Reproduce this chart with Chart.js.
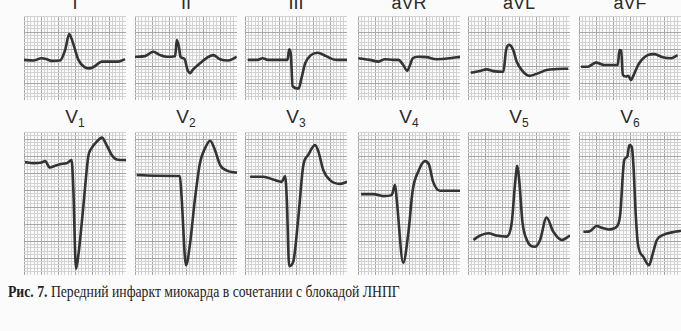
<!DOCTYPE html>
<html>
<head>
<meta charset="utf-8">
<script src="https://cdn.jsdelivr.net/npm/chart.js@4/dist/chart.umd.min.js"></script>
<style>
  html, body { margin:0; padding:0; background:#fbfbfb; }
  body { width:681px; height:331px; position:relative; overflow:hidden; }
  .panel { position:absolute; }
  .lbl { position:absolute; font-family:"Liberation Sans", Arial, sans-serif; color:#2a2a2a; text-align:center; width:110px; }
  .lbl sub { font-size:12px; vertical-align:baseline; position:relative; top:4px; }
  #cap { position:absolute; left:8px; top:282px; font-family:"Liberation Serif", "Times New Roman", serif; font-size:16.5px; color:#222; white-space:nowrap; transform:scaleX(0.83); transform-origin:0 0; }
</style>
</head>
<body>
<div id="cap"><b>Рис. 7.</b> Передний инфаркт миокарда в сочетании с блокадой ЛНПГ</div>
<script>
// ===== DATA (time in mm of paper, amplitude in mm of paper) =====
const limbLeads = ['I', 'II', 'III', 'aVR', 'aVL', 'aVF'];
const chestLeads = ['V1', 'V2', 'V3', 'V4', 'V5', 'V6'];

const I_t   = [0, 2.7, 5.2, 6.7, 8.1, 10.6, 12.1, 13.3, 14.3, 16.0, 17.9, 19.4, 20.9, 22.9, 25.3, 27.7, 29.7];
const I_mv  = [11.8, 11.6, 12.3, 12.0, 11.5, 11.6, 14.7, 19.4, 17.1, 11.8, 9.6, 9.3, 10.0, 11.3, 11.3, 11.3, 12.0];

const II_t  = [0, 2.9, 5.4, 7.4, 9.3, 11.8, 12.3, 12.9, 13.4, 14.2, 14.7, 15.4, 16.2, 17.1, 19.1, 21.6, 23.0, 25.0, 27.4, 29.9];
const II_mv = [12.7, 12.9, 14.2, 13.2, 12.7, 12.9, 17.6, 15.7, 12.7, 12.3, 11.8, 9.0, 7.9, 9.0, 10.8, 12.7, 13.2, 12.0, 11.6, 12.7];

const III_t  = [0.8, 3.7, 5.2, 6.7, 12.5, 13.0, 13.5, 14.0, 15.8, 16.5, 17.7, 19.4, 21.4, 23.8, 26.8, 30];
const III_mv = [11.8, 11.8, 12.3, 11.8, 11.8, 14.9, 13.2, 4.1, 3.4, 5.9, 10.8, 13.2, 13.9, 12.9, 11.8, 11.8];

const aVR_t  = [0.1, 3.5, 6.0, 7.9, 10.4, 11.9, 13.3, 14.5, 15.3, 16.1, 17.7, 20.2, 23.1, 27.1, 30];
const aVR_mv = [12.3, 11.8, 11.3, 12.0, 11.8, 11.8, 10.3, 8.6, 10.3, 12.3, 12.7, 12.6, 12.0, 12.3, 12.7];

const aVL_t  = [0.8, 3.5, 5.5, 7.4, 10.4, 11.2, 12.1, 13.3, 14.3, 15.8, 18.1, 20.7, 23.1, 26.1, 29.5];
const aVL_mv = [8.0, 8.5, 9.0, 8.5, 8.3, 14.7, 16.2, 14.7, 11.3, 8.8, 7.1, 7.9, 8.8, 9.1, 9.2];

const aVF_t  = [0.6, 2.6, 5.0, 7.4, 11.4, 11.9, 12.4, 12.9, 13.8, 14.5, 15.3, 16.1, 17.7, 20.2, 22.1, 24.6, 27.1, 29.0];
const aVF_mv = [9.8, 9.8, 11.0, 10.3, 10.3, 14.7, 14.5, 7.4, 6.9, 7.1, 5.9, 7.4, 10.8, 13.2, 13.5, 12.6, 12.3, 13.2];

const V1_t  = [0.3, 2.7, 5.2, 6.2, 7.6, 9.1, 10.6, 12.6, 14.0, 14.5, 15.3, 16.0, 17.4, 18.9, 19.9, 21.4, 22.9, 24.3, 25.8, 27.3, 30];
const V1_mv = [33.2, 32.9, 33.1, 33.5, 31.6, 32.1, 32.6, 32.9, 33.8, 25.5, 1.8, 5.9, 19.6, 34.8, 37.3, 39.2, 40.4, 38.2, 35.3, 34.0, 33.8];

const V2_t  = [0.5, 6.4, 13.2, 13.7, 15.0, 16.2, 17.6, 19.1, 20.6, 22.1, 23.5, 25.0, 27.0, 30];
const V2_mv = [29.4, 29.2, 29.1, 23.0, 2.9, 9.3, 22.1, 32.9, 37.3, 39.5, 36.8, 32.4, 30.7, 30.1];

const V3_t  = [1.5, 5.4, 8.3, 10.8, 11.8, 12.3, 13.0, 14.2, 15.7, 17.1, 18.6, 20.6, 21.6, 23.0, 25.0, 27.9, 30];
const V3_mv = [28.9, 28.9, 28.1, 27.4, 29.1, 22.1, 2.6, 3.9, 17.1, 31.9, 35.3, 38.2, 36.3, 30.9, 27.9, 26.8, 27.4];

const V4_t  = [0.9, 4.5, 7.4, 9.9, 10.9, 11.4, 13.3, 14.8, 16.1, 17.7, 19.7, 20.9, 22.1, 24.1, 30];
const V4_mv = [23.8, 23.8, 23.2, 23.5, 26.5, 22.1, 3.6, 12.3, 25.0, 30.4, 33.5, 32.4, 27.4, 24.8, 24.8];

const V5_t  = [1.6, 3.5, 6.0, 8.4, 11.4, 12.9, 13.8, 14.5, 15.1, 16.0, 17.3, 19.7, 21.2, 23.1, 25.1, 27.6, 30];
const V5_mv = [10.3, 11.6, 12.3, 11.6, 11.3, 15.7, 26.5, 32.1, 27.4, 15.7, 10.3, 8.3, 10.3, 16.9, 12.7, 10.3, 11.6];

const V6_t  = [1.3, 3.2, 5.2, 6.7, 8.6, 11.1, 12.1, 13.3, 14.2, 14.8, 15.5, 16.0, 16.7, 17.3, 18.9, 20.6, 21.6, 22.9, 24.8, 28.2, 30];
const V6_mv = [12.7, 12.9, 14.4, 13.9, 13.4, 14.2, 17.6, 33.8, 34.8, 38.2, 37.7, 32.4, 17.6, 9.3, 5.4, 2.9, 5.9, 10.3, 11.8, 12.7, 13.0];

const series = {
  I: [I_t, I_mv], II: [II_t, II_mv], III: [III_t, III_mv], aVR: [aVR_t, aVR_mv], aVL: [aVL_t, aVL_mv], aVF: [aVF_t, aVF_mv],
  V1: [V1_t, V1_mv], V2: [V2_t, V2_mv], V3: [V3_t, V3_mv], V4: [V4_t, V4_mv], V5: [V5_t, V5_mv], V6: [V6_t, V6_mv]
};

// ===== LAYOUT =====
const colLeft = [24, 135, 245, 358, 468, 579];
const panelW = 102;
const rows = [
  { leads: limbLeads, top: 16, h: 84, ymax: 84 / 3.4, lblTop: -7, size: 18 },
  { leads: chestLeads, top: 132, h: 143, ymax: 143 / 3.4, lblTop: 106, size: 19 }
];

rows.forEach(row => {
  row.leads.forEach((name, i) => {
    const left = colLeft[i];
    const lbl = document.createElement('div');
    lbl.className = 'lbl';
    lbl.style.left = (left + panelW / 2 - 55) + 'px';
    lbl.style.top = row.lblTop + 'px';
    lbl.style.fontSize = row.size + 'px';
    if (name[0] === 'V') lbl.innerHTML = 'V<sub>' + name.slice(1) + '</sub>';
    else lbl.textContent = name;
    document.body.appendChild(lbl);

    const div = document.createElement('div');
    div.className = 'panel';
    div.style.left = left + 'px';
    div.style.top = row.top + 'px';
    div.style.width = panelW + 'px';
    div.style.height = row.h + 'px';
    const cv = document.createElement('canvas');
    div.appendChild(cv);
    document.body.appendChild(div);

    const [t, v] = series[name];
    const pts = t.map((x, k) => ({ x: x, y: v[k] }));
    const gridColor = ctx => {
      const val = ctx.tick && ctx.tick.value;
      return (Math.abs(val - Math.round(val)) < 1e-6 && Math.round(val) % 5 === 0) ? '#a6a6a6' : '#d2d2d2';
    };
    new Chart(cv, {
      type: 'line',
      data: { datasets: [{ data: pts, borderColor: '#333333', borderWidth: 2.6, pointRadius: 0, tension: 0.25, cubicInterpolationMode: 'monotone', fill: false }] },
      options: {
        animation: false, responsive: true, maintainAspectRatio: false,
        layout: { padding: 0 },
        plugins: { legend: { display: false }, tooltip: { enabled: false } },
        scales: {
          x: { type: 'linear', min: 0, max: 30, ticks: { display: false, stepSize: 1 }, grid: { color: gridColor, drawTicks: false, lineWidth: 1 }, border: { display: false } },
          y: { type: 'linear', min: 0, max: row.ymax, ticks: { display: false, stepSize: 1 }, grid: { color: gridColor, drawTicks: false, lineWidth: 1 }, border: { display: false } }
        }
      }
    });
  });
});
</script>
</body>
</html>
